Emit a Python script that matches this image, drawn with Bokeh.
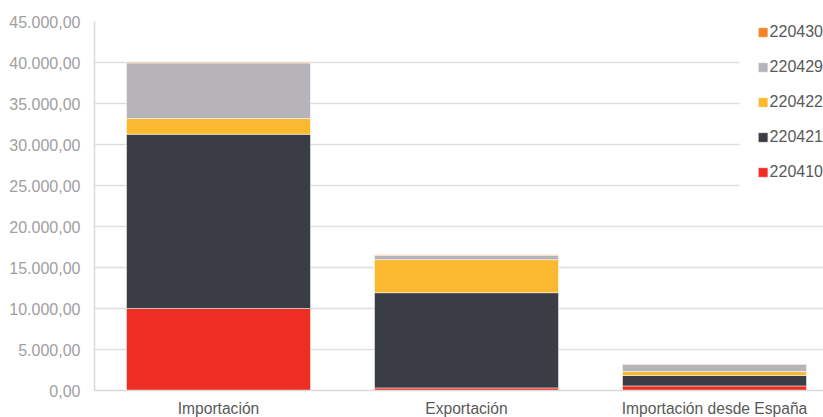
from bokeh.plotting import figure
from bokeh.models import Range1d, FixedTicker, Legend, LegendItem, ColumnDataSource, BoxAnnotation
from bokeh.embed import file_html
from bokeh.resources import INLINE

categories = ["Importación", "Exportación", "Importación desde España"]
series_names = ["220410", "220421", "220422", "220429", "220430"]
v_220410 = [10000, 320, 560]
v_220421 = [21250, 11610, 1270]
v_220422 = [1920, 4030, 490]
v_220429 = [6780, 520, 890]
v_220430 = [80, 80, 10]
colors = ["#EE2E24", "#3A3D46", "#FBB92F", "#B6B4B9", "#F58426"]
y_ticks = [0, 5000, 10000, 15000, 20000, 25000, 30000, 35000, 40000, 45000]

values = [v_220410, v_220421, v_220422, v_220429, v_220430]
x_pos = [i + 0.5 for i in range(len(categories))]

def fmt(v):
    s = f"{v:,.2f}"
    return s.replace(",", "X").replace(".", ",").replace("X", ".")

FRAME_W = 729
CAT_PX = 248

p = figure(frame_width=FRAME_W, frame_height=369, min_border_left=94, min_border_top=21,
           min_border_right=0, min_border_bottom=27,
           x_range=Range1d(0, FRAME_W / CAT_PX), y_range=Range1d(0, 45000),
           output_backend="svg", toolbar_location=None)
p.outline_line_color = None
p.background_fill_color = "white"
p.border_fill_color = "white"

FONT = "Liberation Sans"

renderers = []
bottom = [0.0] * len(categories)
for name, vals, col in zip(series_names, values, colors):
    top = [b + v for b, v in zip(bottom, vals)]
    src = ColumnDataSource(dict(x=x_pos, bottom=bottom, top=top))
    r = p.vbar(x="x", bottom="bottom", top="top", width=184 / CAT_PX, source=src,
               fill_color=col, line_color="white", line_width=0.5)
    renderers.append((name, r))
    bottom = top

# axes
p.xaxis.ticker = FixedTicker(ticks=x_pos)
p.xaxis.major_label_overrides = {x: c for x, c in zip(x_pos, categories)}
p.xaxis.major_tick_line_color = None
p.xaxis.major_tick_out = 0
p.xaxis.major_tick_in = 0
p.xaxis.minor_tick_line_color = None
p.xaxis.minor_tick_out = 0
p.xaxis.axis_line_color = "#D9D9D9"
p.xaxis.axis_line_width = 1.5
p.xaxis.major_label_text_font = FONT
p.xaxis.major_label_text_font_size = "15.6px"
p.xaxis.major_label_text_color = "#595959"
p.xaxis.major_label_standoff = 9

p.yaxis.ticker = FixedTicker(ticks=y_ticks)
p.yaxis.major_label_overrides = {t: fmt(t) for t in y_ticks}
p.yaxis.major_tick_line_color = None
p.yaxis.major_tick_out = 0
p.yaxis.major_tick_in = 0
p.yaxis.minor_tick_line_color = None
p.yaxis.minor_tick_out = 0
p.yaxis.axis_line_color = "#D9D9D9"
p.yaxis.axis_line_width = 1.5
p.yaxis.major_label_text_font = FONT
p.yaxis.major_label_text_font_size = "16px"
p.yaxis.major_label_text_color = "#A0A0A0"
p.yaxis.major_label_standoff = 14

p.xgrid.grid_line_color = None
p.ygrid.ticker = FixedTicker(ticks=y_ticks)
p.ygrid.grid_line_color = "#DEDEDE"
p.ygrid.grid_line_width = 1.5

# white area behind the legend (gridlines stop there)
legend_bg = BoxAnnotation(left=645 / CAT_PX, bottom=23800, fill_color="white",
                          fill_alpha=1.0, line_color=None)
p.add_layout(legend_bg)

items = [LegendItem(label=n, renderers=[r]) for n, r in reversed(renderers)]
legend = Legend(items=items, location="top_right", orientation="vertical",
                glyph_width=12, glyph_height=12, label_standoff=1, label_height=22,
                spacing=13, padding=0, margin=0,
                label_text_font=FONT, label_text_font_size="16px",
                label_text_color="#595959",
                border_line_color=None, background_fill_color="white",
                background_fill_alpha=1.0)
p.add_layout(legend, "center")

open("out.html", "w").write(file_html(p, INLINE))
